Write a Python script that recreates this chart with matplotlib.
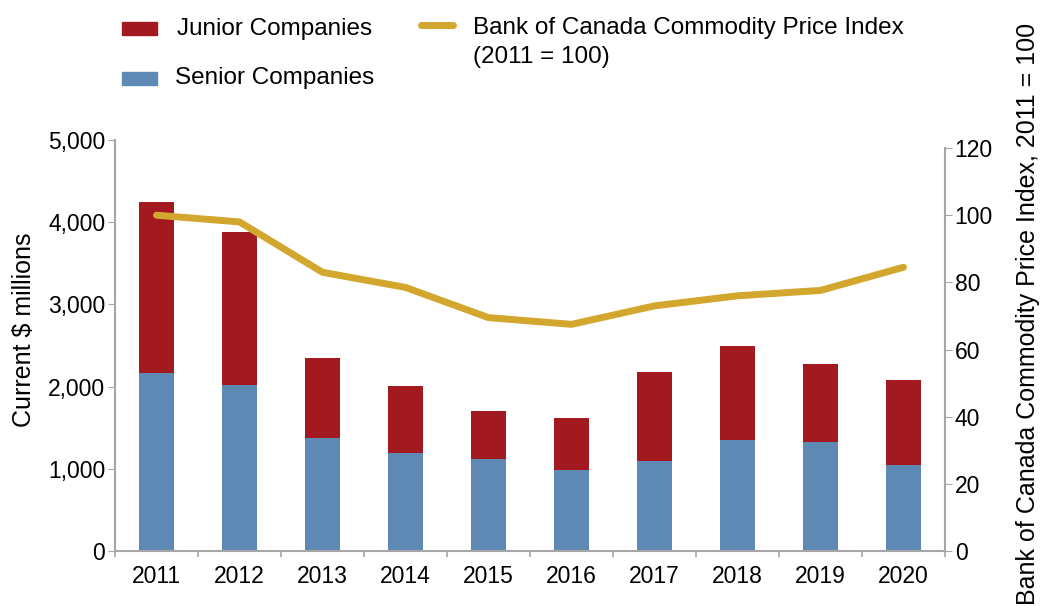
import matplotlib.pyplot as plt
from matplotlib.patches import Rectangle
from matplotlib.lines import Line2D
import numpy as np

plt.rcParams['font.family'] = ['Liberation Sans', 'DejaVu Sans']

years = ['2011', '2012', '2013', '2014', '2015', '2016', '2017', '2018', '2019', '2020']
total = [4240, 3880, 2350, 2010, 1700, 1620, 2180, 2490, 2280, 2080]
senior = [2170, 2020, 1370, 1190, 1120, 980, 1100, 1350, 1320, 1050]
junior = [t - s for t, s in zip(total, senior)]
price_index = [100, 98, 83, 78.5, 69.5, 67.5, 73, 76, 77.6, 84.5]

RED = '#A21A1F'
BLUE = '#5E89B4'
GOLD = '#D3A72E'
GREY = '#A6A6A6'

W, H = 1040, 606
def fx(px):
    return px / W
def fy(py):
    return 1 - py / H

fig = plt.figure(figsize=(10.4, 6.06), dpi=100)
# plot area: x 115..945 px, y 140..551 px
ax = fig.add_axes([fx(115), fy(551), 830 / W, 411 / H])
x = np.arange(len(years))

ax.bar(x, senior, width=0.42, color=BLUE, zorder=2)
ax.bar(x, junior, width=0.42, bottom=senior, color=RED, zorder=2)

ax.set_xlim(-0.5, 9.5)
ax.set_ylim(0, 5000)
ax.set_yticks(range(0, 5001, 1000))
ax.set_yticklabels([f'{v:,}' for v in range(0, 5001, 1000)])
ax.set_xticks(x)
ax.set_xticklabels(years)
# small category separators on the x axis
ax.set_xticks(np.arange(-0.5, 10, 1), minor=True)
ax.tick_params(axis='x', which='major', length=0, labelsize=16.5, pad=10)
ax.tick_params(axis='x', which='minor', length=4, color=GREY, width=1.2)
ax.tick_params(axis='y', length=5, color=GREY, labelsize=16.5, pad=2)
for s in ['top', 'right']:
    ax.spines[s].set_visible(False)
for s in ['left', 'bottom']:
    ax.spines[s].set_color(GREY)
    ax.spines[s].set_linewidth(1.5)

ax2 = ax.twinx()
ax2.plot(x, price_index, color=GOLD, lw=5, solid_capstyle='round', zorder=3)
ax2.set_ylim(0, 122.4)
ax2.set_yticks(range(0, 121, 20))
ax2.spines['right'].set_bounds(0, 120)
ax2.spines['right'].set_color(GREY)
ax2.spines['right'].set_linewidth(1.5)
for s in ['top', 'left', 'bottom']:
    ax2.spines[s].set_visible(False)
ax2.tick_params(axis='y', length=5, color=GREY, labelsize=16.5, pad=2)

# axis titles
fig.text(fx(24), fy(330), 'Current $ millions', fontsize=18, rotation=90,
         ha='center', va='center')
fig.text(fx(1028), fy(314), 'Bank of Canada Commodity Price Index, 2011 = 100',
         fontsize=18, rotation=90, ha='center', va='center')

# legend
fig.add_artist(Rectangle((fx(122), fy(35)), 35 / W, 13 / H, color=RED, transform=fig.transFigure))
fig.add_artist(Rectangle((fx(122), fy(85)), 35 / W, 13 / H, color=BLUE, transform=fig.transFigure))
fig.add_artist(Line2D([fx(421), fx(453)], [fy(25), fy(25)], color=GOLD, lw=5,
                      solid_capstyle='round', transform=fig.transFigure))
fig.text(fx(177), fy(35), 'Junior Companies', fontsize=17.5, va='baseline')
fig.text(fx(175), fy(84), 'Senior Companies', fontsize=17.5, va='baseline')
fig.text(fx(473), fy(34), 'Bank of Canada Commodity Price Index', fontsize=17.5, va='baseline')
fig.text(fx(473), fy(63), '(2011 = 100)', fontsize=17.5, va='baseline')

fig.savefig('out.png', dpi=100)
